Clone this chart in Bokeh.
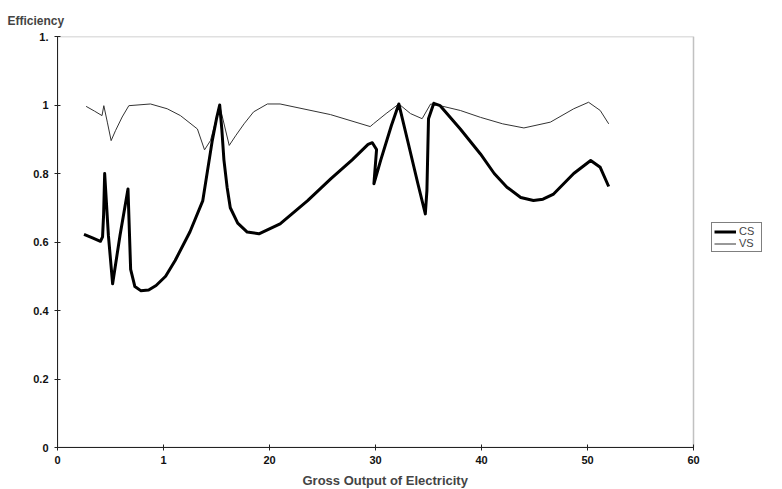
from bokeh.plotting import figure
from bokeh.models import (Legend, LegendItem, FixedTicker, ColumnDataSource,
                          BoxAnnotation, Title)
from bokeh.embed import file_html
from bokeh.resources import INLINE

# ---- data ----
cs_x = [2.5, 3.3, 4.05, 4.25, 4.35, 4.45, 4.8, 5.2, 5.9, 6.65, 6.9, 7.3, 7.85, 8.6,
        9.3, 10.2, 11.1, 12.5, 13.7, 14.6, 15.0, 15.3, 15.5, 15.7, 16.0, 16.3, 17.0,
        17.9, 19.0, 21.0, 23.6, 25.8, 27.8, 29.3, 29.7, 30.1, 29.85, 30.5, 31.5, 32.2,
        33.0, 34.0, 34.7, 34.85, 35.0, 35.5, 36.1, 38.0, 39.9, 41.2, 42.4, 43.7, 44.9,
        45.8, 46.8, 48.7, 50.3, 51.2, 52.0]
cs_y = [0.622, 0.612, 0.602, 0.615, 0.68, 0.80, 0.62, 0.478, 0.62, 0.755, 0.52, 0.47,
        0.458, 0.46, 0.473, 0.50, 0.546, 0.63, 0.72, 0.896, 0.96, 1.0, 0.93, 0.84,
        0.76, 0.70, 0.655, 0.629, 0.624, 0.653, 0.721, 0.785, 0.84, 0.885, 0.89, 0.87,
        0.77, 0.84, 0.94, 1.003, 0.90, 0.77, 0.682, 0.75, 0.96, 1.005, 0.998, 0.93,
        0.857, 0.80, 0.76, 0.73, 0.721, 0.725, 0.74, 0.80, 0.838, 0.818, 0.762]

vs_x = [2.7, 3.5, 4.2, 4.37, 4.7, 5.06, 5.47, 6.1, 6.73, 8.77, 10.35, 11.6, 13.2, 13.87,
        14.43, 15.3, 16.2, 16.8, 17.6, 18.5, 19.8, 21.0, 25.75, 29.5, 29.8, 31.0, 32.2,
        33.3, 34.4, 35.2, 36.1, 38.0, 39.9, 42.0, 44.0, 46.5, 48.7, 50.1, 51.2, 52.0]
vs_y = [0.996, 0.982, 0.969, 0.998, 0.95, 0.896, 0.925, 0.965, 0.998, 1.003, 0.989,
        0.969, 0.93, 0.869, 0.896, 0.998, 0.882, 0.91, 0.945, 0.98, 1.003, 1.003, 0.972,
        0.937, 0.945, 0.975, 1.003, 0.975, 0.96, 1.003, 0.998, 0.984, 0.964, 0.945,
        0.933, 0.95, 0.989, 1.008, 0.984, 0.945]

x_ticks = [0, 10, 20, 30, 40, 50, 60]
x_tick_labels = ["0", "1", "20", "30", "40", "50", "60"]
y_ticks = [0, 0.2, 0.4, 0.6, 0.8, 1.0, 1.2]
y_tick_labels = ["0", "0.2", "0.4", "0.6", "0.8", "1", "1."]

FONT = "Liberation Sans"

X_MIN, X_MAX = x_ticks[0], x_ticks[-1]
Y_MIN, Y_MAX = y_ticks[0], y_ticks[-1]

# plot box is 636 px wide; the frame is extended to the right to host the legend
BOX_W, FRAME_W = 636, 715
p = figure(frame_width=FRAME_W, frame_height=411,
           x_range=(X_MIN, X_MAX * FRAME_W / BOX_W), y_range=(Y_MIN, Y_MAX),
           output_backend="svg", toolbar_location=None,
           min_border_left=57, min_border_top=36, min_border_right=0,
           min_border_bottom=0)

p.title.text = "Efficiency"
p.title.align = "left"
p.title.offset = -50
p.title.text_font = FONT
p.title.text_font_size = "12px"
p.title.text_font_style = "bold"
p.title.standoff = 18

p.xgrid.visible = False
p.ygrid.visible = False
p.outline_line_color = None
p.background_fill_color = "white"
p.border_fill_color = "white"

box = BoxAnnotation(left=X_MIN, right=X_MAX, bottom=Y_MIN, top=Y_MAX,
                    fill_alpha=0, line_color="#333333", line_width=1.5)
p.add_layout(box)

for ax in (p.xaxis[0], p.yaxis[0]):
    ax.axis_line_color = "#222222"
    ax.major_tick_line_color = "#222222"
    ax.minor_tick_line_color = None
    ax.major_tick_in = 3
    ax.major_tick_out = 3
    ax.major_label_text_font = FONT
    ax.major_label_text_font_size = "11px"
    ax.major_label_text_font_style = "bold"
    ax.major_label_text_color = "#111111"

p.xaxis.bounds = (X_MIN, X_MAX)
p.xaxis.ticker = FixedTicker(ticks=x_ticks)
p.xaxis.major_label_overrides = {t: l for t, l in zip(x_ticks, x_tick_labels)}
p.yaxis.ticker = FixedTicker(ticks=y_ticks)
p.yaxis.major_label_overrides = {t: l for t, l in zip(y_ticks, y_tick_labels)}
p.xaxis.major_label_standoff = 5
p.yaxis.major_label_standoff = 6

xtitle = Title(text="Gross Output of Electricity", align="left", offset=245,
               text_font=FONT, text_font_size="13px", text_font_style="bold",
               standoff=8)
p.add_layout(xtitle, "below")

cs_src = ColumnDataSource(dict(x=cs_x, y=cs_y))
vs_src = ColumnDataSource(dict(x=vs_x, y=vs_y))

r_vs = p.line("x", "y", source=vs_src, line_color="#333333", line_width=1)
r_cs = p.line("x", "y", source=cs_src, line_color="black", line_width=3,
              line_join="round")

legend = Legend(items=[LegendItem(label="CS", renderers=[r_cs]),
                       LegendItem(label="VS", renderers=[r_vs])],
                location=(654, 195))
legend.border_line_color = "black"
legend.border_line_width = 1
legend.label_text_font = FONT
legend.label_text_font_size = "11px"
legend.label_height = 9
legend.glyph_height = 9
legend.glyph_width = 22
legend.label_standoff = 3
legend.padding = 2
legend.spacing = 0
legend.margin = 0
legend.background_fill_alpha = 1
p.add_layout(legend, "center")

open("out.html", "w").write(file_html(p, INLINE))
